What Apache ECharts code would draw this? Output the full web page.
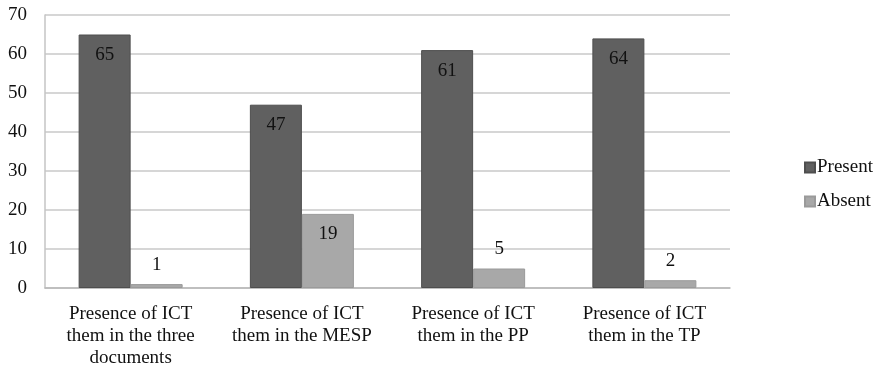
<!DOCTYPE html>
<html>
<head>
<meta charset="utf-8">
<script src="https://cdn.jsdelivr.net/npm/echarts@6/dist/echarts.min.js"></script>
<style>html,body{margin:0;padding:0;background:#fff}#c{width:882px;height:370px}</style>
</head>
<body>
<div id="c"></div>
<script>
var categories = [
  "Presence of ICT\nthem in the three\ndocuments",
  "Presence of ICT\nthem in the MESP",
  "Presence of ICT\nthem in the PP",
  "Presence of ICT\nthem in the TP"
];
var presentValues = [65, 47, 61, 64];
var absentValues = [1, 19, 5, 2];
var yTicks = { min: 0, max: 70, interval: 10 };

var font = "'Liberation Serif', 'Times New Roman', serif";

function withLabels(vals) {
  return vals.map(function (v) {
    return {
      value: v,
      label: { position: v >= 10 ? 'insideTop' : 'top', distance: v >= 10 ? 11 : 10 }
    };
  });
}

var chart = echarts.init(document.getElementById('c'), null, { renderer: 'canvas' });
chart.setOption({
  animation: false,
  backgroundColor: '#ffffff',
  textStyle: { fontFamily: font },
  grid: { left: 45, right: 152, top: 15, bottom: 82, containLabel: false },
  legend: {
    orient: 'vertical',
    left: 799,
    top: 153,
    itemWidth: 10,
    itemHeight: 10,
    itemGap: 15,
    icon: 'rect',
    textStyle: { fontFamily: font, fontSize: 19, color: '#111', padding: [0, 0, 0, -3] },
    data: ['Present', 'Absent']
  },
  xAxis: {
    type: 'category',
    data: categories,
    axisLine: { show: true, lineStyle: { color: '#b8b8b8', width: 1.5 } },
    axisTick: { show: false },
    axisLabel: {
      interval: 0,
      margin: 15,
      fontFamily: font,
      fontSize: 19,
      lineHeight: 22,
      color: '#111'
    }
  },
  yAxis: {
    type: 'value',
    min: yTicks.min,
    max: yTicks.max,
    interval: yTicks.interval,
    axisLine: { show: true, lineStyle: { color: '#c4c4c4', width: 1.5 } },
    axisTick: { show: false },
    splitLine: { show: true, lineStyle: { color: '#c8c8c8', width: 1.5 } },
    axisLabel: { margin: 18, fontFamily: font, fontSize: 19, color: '#111' }
  },
  series: [
    {
      name: 'Present',
      type: 'bar',
      barWidth: 52,
      barGap: '0%',
      data: withLabels(presentValues),
      itemStyle: { color: '#606060', borderColor: '#4e4e4e', borderWidth: 1 },
      label: { show: true, fontFamily: font, fontSize: 19, color: '#111' }
    },
    {
      name: 'Absent',
      type: 'bar',
      barWidth: 52,
      barGap: '0%',
      data: withLabels(absentValues),
      itemStyle: { color: '#a8a8a8', borderColor: '#9a9a9a', borderWidth: 1 },
      label: { show: true, fontFamily: font, fontSize: 19, color: '#111' }
    }
  ]
});
</script>
</body>
</html>
